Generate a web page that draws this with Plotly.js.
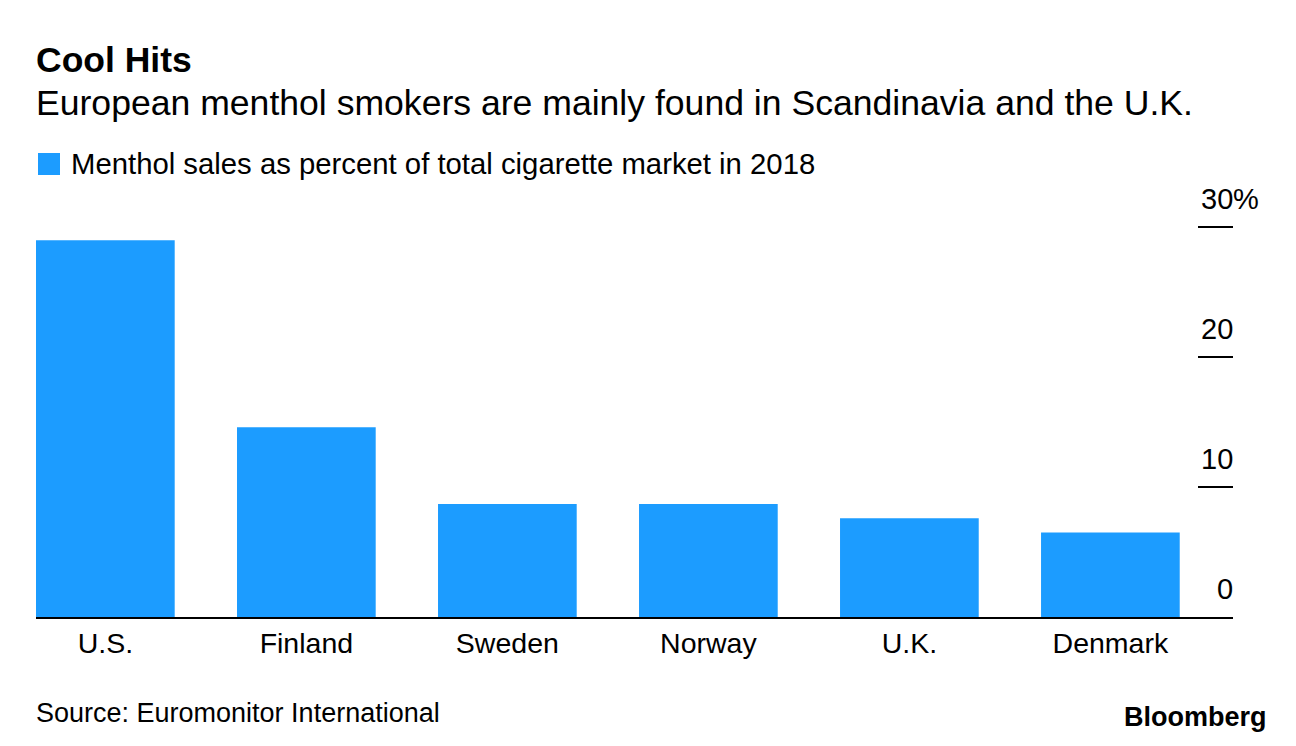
<!DOCTYPE html>
<html>
<head>
<meta charset="utf-8">
<script src="https://cdn.plot.ly/plotly-3.0.1.min.js"></script>
<style>
  html, body { margin: 0; padding: 0; background: #fff; }
  #chart { width: 1296px; height: 746px; }
</style>
</head>
<body>
<div id="chart"></div>
<script>
// ---- data ----
const countries = ['U.S.', 'Finland', 'Sweden', 'Norway', 'U.K.', 'Denmark'];
const mentholShare = [29.0, 14.6, 8.7, 8.7, 7.6, 6.5];
const yTickVals = [0, 10, 20, 30];
const yTickText = ['0', '10', '20', '30%'];
const titleText = 'Cool Hits';
const subtitleText = 'European menthol smokers are mainly found in Scandinavia and the U.K.';
const legendText = 'Menthol sales as percent of total cigarette market in 2018';
const sourceText = 'Source: Euromonitor International';
const brandText = 'Bloomberg';

// ---- layout geometry ----
const W = 1296, H = 746;
const mL = 36, mR = 63, mT = 226, mB = 129;
const plotW = W - mL - mR, plotH = H - mT - mB;
const px = x => (x - mL) / plotW;
const py = y => (H - mB - y) / plotH;
const FONT = '"Liberation Sans", Arial, Helvetica, sans-serif';
const BLUE = '#1c9cff';

const trace = {
  type: 'bar',
  x: countries,
  y: mentholShare,
  width: 0.69,
  marker: { color: BLUE, line: { width: 0 } },
  hoverinfo: 'skip',
  showlegend: false
};

const annotations = [
  { text: '<b>' + titleText + '</b>', x: px(34), y: py(60), font: { size: 35.5, color: '#000', family: FONT } },
  { text: subtitleText, x: px(34), y: py(103), font: { size: 35.6, color: '#000', family: FONT } },
  { text: legendText, x: px(69), y: py(164), font: { size: 29.3, color: '#000', family: FONT } },
  { text: sourceText, x: px(34), y: py(713), font: { size: 27, color: '#000', family: FONT } },
  { text: '<b>' + brandText + '</b>', x: px(1269), y: py(717), xanchor: 'right', font: { size: 27, color: '#000', family: FONT } }
].map(a => Object.assign({ xref: 'paper', yref: 'paper', xanchor: 'left', yanchor: 'middle', showarrow: false }, a));

// y tick labels drawn above the tick marks
yTickVals.forEach((v, i) => {
  const t = yTickText[i];
  const num = t.replace('%', '');
  const suffix = t.endsWith('%') ? '%' : '';
  annotations.push({
    xref: 'paper', yref: 'y', x: 1, y: v, xanchor: 'right', yanchor: 'middle',
    xshift: 2, yshift: 28, text: num, showarrow: false,
    font: { size: 29, color: '#000', family: FONT }
  });
  if (suffix) {
    annotations.push({
      xref: 'paper', yref: 'y', x: 1, y: v, xanchor: 'left', yanchor: 'middle',
      xshift: -2, yshift: 28, text: suffix, showarrow: false,
      font: { size: 29, color: '#000', family: FONT }
    });
  }
});

const shapes = [
  { type: 'rect', xref: 'paper', yref: 'paper', x0: px(38), x1: px(60), y0: py(153), y1: py(175),
    fillcolor: BLUE, line: { width: 0 } }
];

const layout = {
  width: W, height: H,
  margin: { l: mL, r: mR, t: mT, b: mB, pad: 0 },
  paper_bgcolor: '#fff', plot_bgcolor: '#fff',
  showlegend: false,
  hovermode: false,
  font: { family: FONT, color: '#000' },
  xaxis: {
    type: 'category',
    range: [-0.345, 5.61],
    showline: true, linecolor: '#000', linewidth: 2,
    ticks: '', showgrid: false, zeroline: false,
    tickfont: { size: 28.5, color: '#000', family: FONT },
    fixedrange: true
  },
  yaxis: {
    side: 'right',
    range: [0, 30.1],
    tickvals: yTickVals,
    ticktext: yTickText,
    showticklabels: false,
    ticks: 'inside', ticklen: 35, tickwidth: 2, tickcolor: '#000',
    showline: false, showgrid: false, zeroline: false,
    fixedrange: true
  },
  annotations: annotations,
  shapes: shapes
};

Plotly.newPlot('chart', [trace], layout, { displayModeBar: false, staticPlot: true });
</script>
</body>
</html>
